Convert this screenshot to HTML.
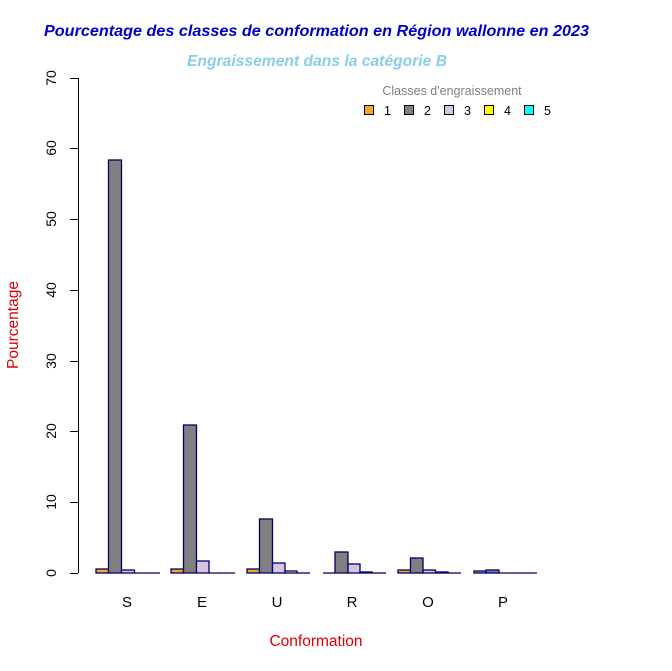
<!DOCTYPE html>
<html><head><meta charset="utf-8"><style>
html,body{margin:0;padding:0;background:#fff}
svg{display:block;font-family:"Liberation Sans",sans-serif}
</style></head><body>
<svg width="672" height="671" viewBox="0 0 672 671" xmlns="http://www.w3.org/2000/svg">
<text x="44" y="36" font-size="16" font-weight="bold" font-style="italic" fill="#0000cc" textLength="545" lengthAdjust="spacingAndGlyphs">Pourcentage des classes de conformation en Région wallonne en 2023</text>
<text x="187" y="66" font-size="15.5" font-weight="bold" font-style="italic" fill="#87ceeb" textLength="260" lengthAdjust="spacingAndGlyphs">Engraissement dans la catégorie B</text>
<g stroke="#000" stroke-width="1">
<line x1="78.5" y1="78" x2="78.5" y2="573"/>
<line x1="70" y1="573.5" x2="78" y2="573.5"/>
<line x1="70" y1="502.5" x2="78" y2="502.5"/>
<line x1="70" y1="431.5" x2="78" y2="431.5"/>
<line x1="70" y1="361.5" x2="78" y2="361.5"/>
<line x1="70" y1="290.5" x2="78" y2="290.5"/>
<line x1="70" y1="219.5" x2="78" y2="219.5"/>
<line x1="70" y1="148.5" x2="78" y2="148.5"/>
<line x1="70" y1="78.5" x2="78" y2="78.5"/>
</g>
<g font-size="14" fill="#000" text-anchor="middle">
<text transform="translate(56,573) rotate(-90)">0</text>
<text transform="translate(56,502) rotate(-90)">10</text>
<text transform="translate(56,431) rotate(-90)">20</text>
<text transform="translate(56,361) rotate(-90)">30</text>
<text transform="translate(56,290) rotate(-90)">40</text>
<text transform="translate(56,219) rotate(-90)">50</text>
<text transform="translate(56,148) rotate(-90)">60</text>
<text transform="translate(56,78) rotate(-90)">70</text>
</g>
<text transform="translate(18,325) rotate(-90)" text-anchor="middle" font-size="15.5" fill="#e00000">Pourcentage</text>
<text x="316" y="646" text-anchor="middle" font-size="15.5" fill="#e00000">Conformation</text>
<g font-size="15" text-anchor="middle" fill="#000">
<text x="127" y="607">S</text><text x="202" y="607">E</text><text x="277" y="607">U</text>
<text x="352" y="607">R</text><text x="428" y="607">O</text><text x="503" y="607">P</text>
</g>
<g stroke="#000066" stroke-width="1.3">
<rect x="96" y="569" width="12.5" height="4" fill="#f5a623"/>
<rect x="108.5" y="160" width="13" height="413" fill="#808080"/>
<rect x="121.5" y="570" width="13" height="3" fill="#d8c4e0"/>
<line x1="134.5" y1="573" x2="160" y2="573"/>
<rect x="171" y="569" width="12.5" height="4" fill="#f5a623"/>
<rect x="183.5" y="425" width="13" height="148" fill="#808080"/>
<rect x="196.5" y="561" width="12.5" height="12" fill="#d8c4e0"/>
<line x1="209" y1="573" x2="235" y2="573"/>
<rect x="247" y="569" width="12.5" height="4" fill="#f5a623"/>
<rect x="259.5" y="519" width="13" height="54" fill="#808080"/>
<rect x="272.5" y="563" width="12.5" height="10" fill="#d8c4e0"/>
<rect x="285" y="571" width="12" height="2" fill="#ffffcc"/>
<line x1="297" y1="573" x2="310" y2="573"/>
<line x1="323" y1="573" x2="335" y2="573"/>
<rect x="335" y="552" width="13" height="21" fill="#808080"/>
<rect x="348" y="564" width="12" height="9" fill="#d8c4e0"/>
<rect x="360" y="572" width="12" height="1" fill="#000066"/>
<line x1="372" y1="573" x2="386" y2="573"/>
<rect x="398" y="570" width="12.5" height="3" fill="#f5a623"/>
<rect x="410.5" y="558" width="12.5" height="15" fill="#808080"/>
<rect x="423" y="570" width="12.5" height="3" fill="#d8c4e0"/>
<rect x="435.5" y="572" width="12.5" height="1" fill="#000066"/>
<line x1="448" y1="573" x2="461" y2="573"/>
<rect x="474" y="571" width="12" height="2" fill="#d8a0a8"/>
<rect x="486" y="570" width="13" height="3" fill="#7080b0"/>
<line x1="499" y1="573" x2="537" y2="573"/>
</g>
<text x="452" y="95" text-anchor="middle" font-size="12.5" fill="#808080">Classes d'engraissement</text>
<g stroke="#000" stroke-width="1">
<rect x="364.5" y="105.5" width="9" height="9" fill="#f5a623"/>
<rect x="404.5" y="105.5" width="9" height="9" fill="#808080"/>
<rect x="444.5" y="105.5" width="9" height="9" fill="#d8c4e0"/>
<rect x="484.5" y="105.5" width="9" height="9" fill="#ffff00"/>
<rect x="524.5" y="105.5" width="9" height="9" fill="#00ffff"/>
</g>
<g font-size="12.5" fill="#000">
<text x="384" y="115">1</text><text x="424" y="115">2</text><text x="464" y="115">3</text>
<text x="504" y="115">4</text><text x="544" y="115">5</text>
</g>
</svg>
</body></html>
